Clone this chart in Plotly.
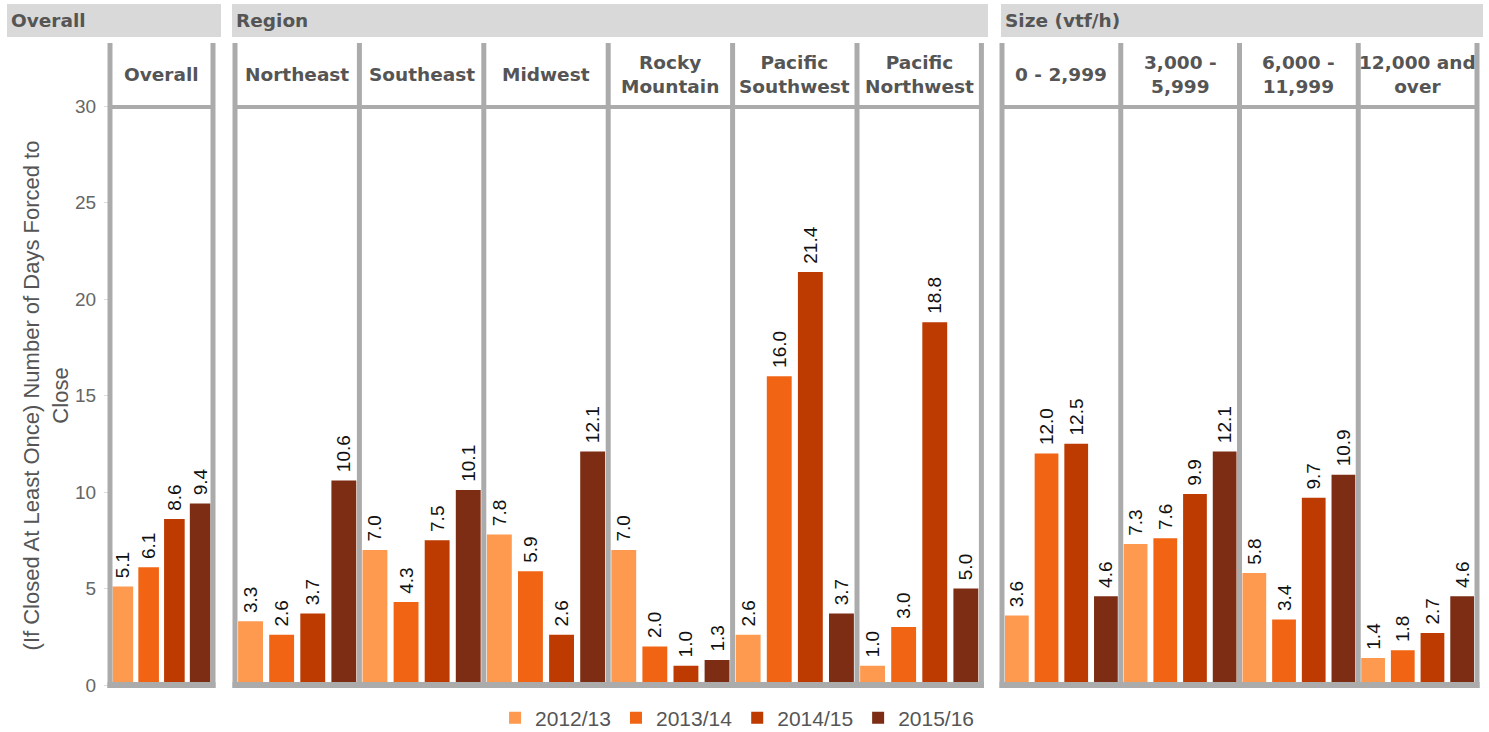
import plotly.graph_objects as go

W, H = 1489, 732

# ---------------- data ----------------
years = ["2012/13", "2013/14", "2014/15", "2015/16"]
panels = ["Overall", "Northeast", "Southeast", "Midwest", "Rocky<br>Mountain",
          "Pacific<br>Southwest", "Pacific<br>Northwest", "0 - 2,999",
          "3,000 -<br>5,999", "6,000 -<br>11,999", "12,000 and<br>over"]
groups = ["Overall", "Region", "Size (vtf/h)"]
panel_group = [0, 1, 1, 1, 1, 1, 1, 2, 2, 2, 2]

v2012_13 = [5.1, 3.3, 7.0, 7.8, 7.0, 2.6, 1.0, 3.6, 7.3, 5.8, 1.4]
v2013_14 = [6.1, 2.6, 4.3, 5.9, 2.0, 16.0, 3.0, 12.0, 7.6, 3.4, 1.8]
v2014_15 = [8.6, 3.7, 7.5, 2.6, 1.0, 21.4, 18.8, 12.5, 9.9, 9.7, 2.7]
v2015_16 = [9.4, 10.6, 10.1, 12.1, 1.3, 3.7, 5.0, 4.6, 12.1, 10.9, 4.6]
series = [v2012_13, v2013_14, v2014_15, v2015_16]
y_ticks = [0, 5, 10, 15, 20, 25, 30]

# ---------------- style / layout ----------------
colors = ["#fd9a50", "#f06414", "#bd3a00", "#7c2d14"]
border_col = "#ababab"
band_col = "#d9d9d9"
head_font = dict(family="DejaVu Sans", size=18.5, color="#555555", weight="bold")

# panel border x positions (pixels)
reg = [235 + 124.4 * k for k in range(7)]
siz = [1002 + 118.75 * k for k in range(5)]
edges = [(110, 213)] + [(reg[k], reg[k + 1]) for k in range(6)] + [(siz[k], siz[k + 1]) for k in range(4)]
group_spans = [(110, 213), (reg[0], reg[-1]), (siz[0], siz[-1])]
band_spans = [(7, 221), (232, 988), (1001, 1483)]

Y_BOTTOM, Y_TOP = 685, 106
HEAD_TOP = 43


def px(x):
    return x / W


def py(y):
    return 1 - y / H


fig = go.Figure()

for p in range(len(panels)):
    xa = "x" if p == 0 else f"x{p + 1}"
    for i, yr in enumerate(years):
        fig.add_trace(go.Bar(
            x=[i], y=[series[i][p]], width=0.8,
            name=yr, legendgroup=yr, showlegend=(p == 0),
            marker=dict(color=colors[i], line=dict(width=0)),
            texttemplate="\u00a0%{y:.1f}", textposition="outside", textangle=-90,
            textfont=dict(family="Liberation Sans", size=19, color="#111111"),
            constraintext="none", cliponaxis=False,
            xaxis=xa, yaxis="y", hoverinfo="skip",
        ))

layout = dict(
    width=W, height=H,
    margin=dict(l=0, r=0, t=0, b=0, autoexpand=False),
    paper_bgcolor="white", plot_bgcolor="white",
    barmode="overlay",
    showlegend=True,
    legend=dict(orientation="h", x=0.495, xanchor="center", y=py(718), yanchor="middle",
                font=dict(family="Liberation Sans", size=21, color="#555555"),
                bgcolor="rgba(0,0,0,0)", traceorder="normal"),
)

for p, (L, R) in enumerate(edges):
    key = "xaxis" if p == 0 else f"xaxis{p + 1}"
    layout[key] = dict(domain=[px(L), px(R)], range=[-0.5, 3.5], anchor="y",
                       showticklabels=False, showgrid=False, zeroline=False,
                       showline=False, ticks="", fixedrange=True)

layout["yaxis"] = dict(domain=[py(Y_BOTTOM), py(Y_TOP)], range=[0, 30], anchor="x",
                       tickvals=y_ticks, ticks="outside", ticklen=5, tickcolor="#dddddd",
                       ticklabelstandoff=4,
                       tickfont=dict(family="Liberation Sans", size=19, color="#666666"),
                       showgrid=False, zeroline=False, showline=False,
                       title=dict(text="(If Closed At Least Once) Number of Days Forced to<br>Close",
                                  font=dict(family="Liberation Sans", size=22, color="#555555"),
                                  standoff=0))
fig.update_layout(**layout)

shapes = []
annotations = []
# group header bands
for g, (a, b) in enumerate(band_spans):
    shapes.append(dict(type="rect", xref="paper", yref="paper", x0=px(a), x1=px(b),
                       y0=py(37), y1=py(4), fillcolor=band_col, line=dict(width=0), layer="below"))
    annotations.append(dict(text=groups[g], xref="paper", yref="paper", x=px(a + 2), y=py(21),
                            xanchor="left", yanchor="middle", showarrow=False, font=head_font))

# borders per group
for (a, b) in group_spans:
    shapes.append(dict(type="line", xref="paper", yref="paper", x0=px(a), x1=px(b),
                       y0=py(107), y1=py(107), line=dict(color=border_col, width=4)))
    shapes.append(dict(type="line", xref="paper", yref="paper", x0=px(a - 2.5), x1=px(b + 2.5),
                       y0=py(685), y1=py(685), line=dict(color=border_col, width=6)))

xs = set()
for (L, R) in edges:
    xs.add(round(L, 2))
    xs.add(round(R, 2))
for x in sorted(xs):
    shapes.append(dict(type="line", xref="paper", yref="paper", x0=px(x), x1=px(x),
                       y0=py(HEAD_TOP), y1=py(688), line=dict(color=border_col, width=5)))

# panel headers
for p, (L, R) in enumerate(edges):
    annotations.append(dict(text=panels[p], xref="paper", yref="paper", x=px((L + R) / 2),
                            y=py(74.5), xanchor="center", yanchor="middle", showarrow=False,
                            align="center", font=head_font))

fig.update_layout(shapes=shapes, annotations=annotations)
fig.write_html("out.html")
